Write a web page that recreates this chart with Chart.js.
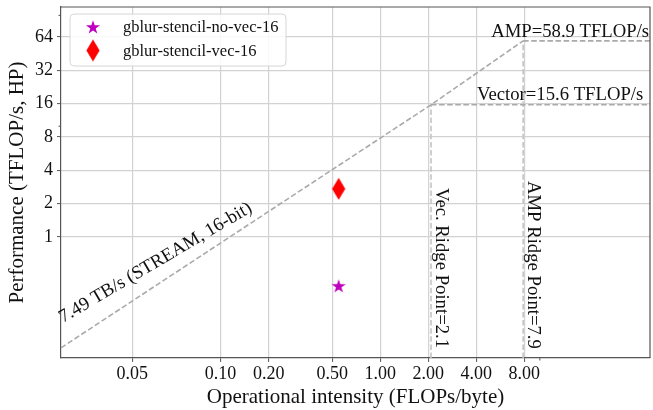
<!DOCTYPE html>
<html><head><meta charset="utf-8">
<script src="https://cdn.jsdelivr.net/npm/chart.js@4/dist/chart.umd.min.js"></script>
<style>html,body{margin:0;padding:0;background:#fff;overflow:hidden}#wrap{width:657px;height:410px}</style>
</head><body><div id="wrap"><canvas id="c" width="657" height="410"></canvas></div>
<script>
// ---- data ----
const xTickValues = [0.028, 0.1, 0.2, 0.5, 1, 2, 4, 8];
const xTickLabels = ['0.05', '0.10', '0.20', '0.50', '1.00', '2.00', '4.00', '8.00'];
const yTickValues = [1, 2, 4, 8, 16, 32, 64];
const yTickLabels = ['1', '2', '4', '8', '16', '32', '64'];
const xMinorTicks = [10];
const yMinorTicks = [10, 100];
const xRange = [0.01, 49];
const yRange = [0.081, 119];
const seriesNames = ['gblur-stencil-no-vec-16', 'gblur-stencil-vec-16'];
const seriesIntensity = [0.549, 0.549];
const seriesPerf = [0.362, 2.72];
const seriesColors = ['#bf00bf', '#ff0000'];
const memRoofX = [0.01, 2.08, 7.86];
const memRoofY = [0.1, 15.6, 58.9];
const vecPeak = 15.6, vecRidge = 2.08;
const ampPeak = 58.9, ampRidge = 7.86;
const roofLabels = ['AMP=58.9 TFLOP/s', 'Vector=15.6 TFLOP/s', 'Vec. Ridge Point=2.1', 'AMP Ridge Point=7.9', '7.49 TB/s (STREAM, 16-bit)'];
const xTitle = 'Operational intensity (FLOPs/byte)';
const yTitle = 'Performance (TFLOP/s, HP)';

const SERIF = "'Liberation Serif', 'Times New Roman', serif";
const ROOF = '#aaaaaa';

function starCanvas(color) {
  const c = document.createElement('canvas'); c.width = 18; c.height = 18;
  const g = c.getContext('2d'); const R = 7.4, r = R * 0.382;
  g.beginPath();
  for (let i = 0; i < 10; i++) {
    const a = -Math.PI / 2 + i * Math.PI / 5; const rr = i % 2 ? r : R;
    g.lineTo(9 + rr * Math.cos(a), 9.6 + rr * Math.sin(a));
  }
  g.closePath(); g.fillStyle = color; g.fill(); return c;
}
function diamondCanvas(color) {
  const c = document.createElement('canvas'); c.width = 16; c.height = 24;
  const g = c.getContext('2d');
  g.beginPath(); g.moveTo(8, 1); g.lineTo(14.6, 12); g.lineTo(8, 23); g.lineTo(1.4, 12); g.closePath();
  g.fillStyle = color; g.fill(); return c;
}
const markers = [starCanvas(seriesColors[0]), diamondCanvas(seriesColors[1])];

const pts = (xs, ys) => xs.map((v, i) => ({x: v, y: ys[i]}));
const dashLine = (data, extra) => Object.assign({
  data, showLine: true, borderColor: ROOF, borderWidth: 1.6, borderDash: [5.5, 2.6],
  pointRadius: 0, fill: false, tension: 0
}, extra || {});

const datasets = [
  dashLine(pts(memRoofX, memRoofY)),
  dashLine([{x: vecRidge, y: vecPeak}, {x: xRange[1], y: vecPeak}]),
  dashLine([{x: ampRidge, y: ampPeak}, {x: xRange[1], y: ampPeak}]),
  dashLine([{x: vecRidge, y: yRange[0]}, {x: vecRidge, y: vecPeak}], {borderColor: '#c4c4c4'}),
  dashLine([{x: ampRidge, y: yRange[0]}, {x: ampRidge, y: ampPeak}], {borderColor: '#c4c4c4'}),
];
seriesNames.forEach((n, i) => datasets.push({
  label: n, data: [{x: seriesIntensity[i], y: seriesPerf[i]}],
  pointStyle: markers[i], pointRadius: 6, showLine: false
}));

const deco = {
  id: 'deco',
  afterDatasetsDraw(chart) {
    const {ctx, chartArea: a, scales: {x, y}} = chart;
    ctx.save();
    // top & right spines
    ctx.strokeStyle = '#555'; ctx.lineWidth = 1.2;
    ctx.beginPath(); ctx.moveTo(a.left, a.top); ctx.lineTo(a.right, a.top); ctx.lineTo(a.right, a.bottom); ctx.stroke();
    // minor ticks
    ctx.lineWidth = 1;
    yMinorTicks.forEach(v => { const p = y.getPixelForValue(v); ctx.beginPath(); ctx.moveTo(a.left - 2.5, p); ctx.lineTo(a.left, p); ctx.stroke(); });
    xMinorTicks.forEach(v => { const p = x.getPixelForValue(v); ctx.beginPath(); ctx.moveTo(p, a.bottom); ctx.lineTo(p, a.bottom + 2.5); ctx.stroke(); });
    // roof labels
    ctx.fillStyle = '#111'; ctx.font = '18.7px ' + SERIF; ctx.textAlign = 'left'; ctx.textBaseline = 'alphabetic';
    ctx.fillText(roofLabels[0], x.getPixelForValue(ampRidge) - 32, y.getPixelForValue(ampPeak) - 3.5);
    ctx.fillText(roofLabels[1], x.getPixelForValue(vecRidge) + 46, y.getPixelForValue(vecPeak) - 5);
    [[vecRidge, roofLabels[2], 188], [ampRidge, roofLabels[3], 181]].forEach(([v, t, y0]) => {
      ctx.save(); ctx.translate(x.getPixelForValue(v) + 5.3, y0); ctx.rotate(Math.PI / 2); ctx.fillText(t, 0, 0); ctx.restore();
    });
    ctx.save(); ctx.translate(63, 323); ctx.rotate(-30.5 * Math.PI / 180); ctx.fillText(roofLabels[4], 0, 0); ctx.restore();
    ctx.restore();
  },
  afterDraw(chart) {
    const {ctx} = chart;
    ctx.save();
    const bx = 70, by = 14, bw = 216, bh = 52, r = 4;
    ctx.beginPath();
    ctx.roundRect(bx, by, bw, bh, r);
    ctx.fillStyle = 'rgba(255,255,255,0.85)'; ctx.fill();
    ctx.strokeStyle = '#d6d6d6'; ctx.lineWidth = 1; ctx.stroke();
    ctx.font = '16.5px ' + SERIF; ctx.fillStyle = '#111'; ctx.textBaseline = 'middle'; ctx.textAlign = 'left';
    const rows = [27.5, 51.5];
    seriesNames.forEach((n, i) => {
      const m = markers[i];
      ctx.drawImage(m, 93 - m.width / 2, rows[i] - m.height / 2 - (i === 0 ? 0.5 : 1));
      ctx.fillText(n, 123, rows[i]);
    });
    ctx.restore();
  }
};

Chart.defaults.font.family = SERIF;
Chart.defaults.color = '#111';

const noPad = s => { s.paddingTop = 0; s.paddingBottom = 0; s.paddingLeft = 0; s.paddingRight = 0; };

new Chart(document.getElementById('c'), {
  type: 'scatter',
  data: {datasets},
  options: {
    responsive: false, animation: false, devicePixelRatio: 1,
    layout: {padding: {left: 0, right: 1, top: 5, bottom: 0}},
    plugins: {legend: {display: false}, tooltip: {enabled: false}},
    scales: {
      x: {
        type: 'logarithmic', min: xRange[0], max: xRange[1], bounds: 'data',
        afterBuildTicks: s => { s.ticks = xTickValues.map(v => ({value: v})); },
        afterFit: s => { s.height = 52; noPad(s); },
        ticks: {autoSkip: false, maxRotation: 0, minRotation: 0, padding: 1.5, font: {size: 18},
          callback: (v, i) => xTickLabels[i]},
        grid: {color: '#d2d2d2', lineWidth: 1.2, tickLength: 4, tickColor: '#555', tickWidth: 1},
        border: {color: '#555', width: 1.2},
        title: {display: true, text: xTitle, font: {size: 21}, padding: {top: 0, bottom: 0}}
      },
      y: {
        type: 'logarithmic', min: yRange[0], max: yRange[1], bounds: 'data',
        afterBuildTicks: s => { s.ticks = yTickValues.map(v => ({value: v})); },
        afterFit: s => { s.width = 61; noPad(s); },
        ticks: {autoSkip: false, padding: 4, font: {size: 18},
          callback: (v, i) => yTickLabels[i]},
        grid: {color: '#d2d2d2', lineWidth: 1.2, tickLength: 4, tickColor: '#555', tickWidth: 1},
        border: {color: '#555', width: 1.2},
        title: {display: true, text: yTitle, font: {size: 21}, padding: {top: 5, bottom: 0}}
      }
    }
  },
  plugins: [deco]
});
</script></body></html>
